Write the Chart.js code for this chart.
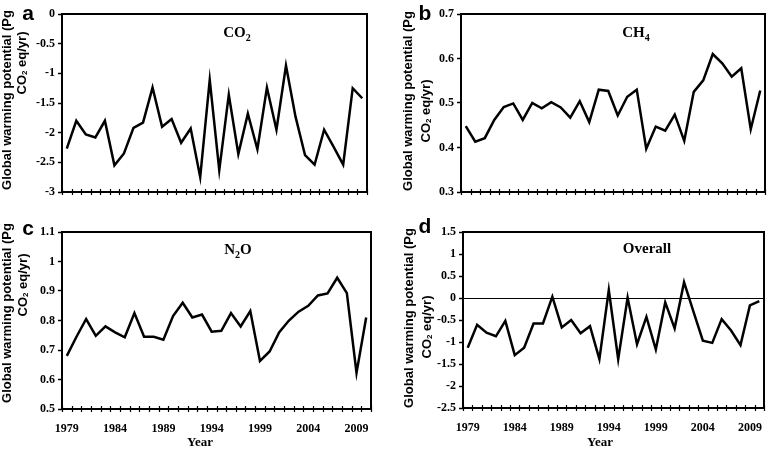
<!DOCTYPE html>
<html>
<head>
<meta charset="utf-8">
<script src="https://cdn.jsdelivr.net/npm/chart.js@4"></script>
<style>
  html, body { margin: 0; padding: 0; background: #fff; }
  #wrap { position: relative; width: 768px; height: 450px; }
  canvas { position: absolute; }
</style>
</head>
<body>
<div id="wrap">
  <canvas id="pa" width="384" height="215" style="left:0;top:0"></canvas>
  <canvas id="pb" width="384" height="215" style="left:384px;top:0"></canvas>
  <canvas id="pc" width="384" height="235" style="left:0;top:215px"></canvas>
  <canvas id="pd" width="384" height="235" style="left:384px;top:215px"></canvas>
</div>
<script>
// years on the x axis and the ones that get a label
const years = [1979, 1980, 1981, 1982, 1983, 1984, 1985, 1986, 1987, 1988, 1989, 1990, 1991, 1992, 1993, 1994,
               1995, 1996, 1997, 1998, 1999, 2000, 2001, 2002, 2003, 2004, 2005, 2006, 2007, 2008, 2009, 2010];
const labeledYears = [1979, 1984, 1989, 1994, 1999, 2004, 2009];

// global warming potential (Pg CO2 eq/yr)
const co2 = [-2.27, -1.80, -2.03, -2.08, -1.80, -2.55, -2.35, -1.92, -1.83, -1.24, -1.90, -1.77, -2.17, -1.93, -2.75, -1.11,
             -2.63, -1.36, -2.36, -1.68, -2.28, -1.24, -1.95, -0.87, -1.73, -2.38, -2.54, -1.95, -2.24, -2.54, -1.25, -1.42];
const ch4 = [0.448, 0.413, 0.421, 0.462, 0.491, 0.499, 0.462, 0.500, 0.488, 0.502, 0.490, 0.467, 0.504, 0.457, 0.530, 0.527,
             0.472, 0.514, 0.530, 0.397, 0.447, 0.438, 0.474, 0.415, 0.525, 0.551, 0.610, 0.589, 0.559, 0.578, 0.441, 0.528];
const n2o = [0.680, 0.745, 0.805, 0.748, 0.780, 0.760, 0.743, 0.825, 0.745, 0.745, 0.735, 0.815, 0.860, 0.810, 0.820, 0.762,
             0.765, 0.825, 0.780, 0.832, 0.663, 0.695, 0.760, 0.800, 0.830, 0.850, 0.885, 0.892, 0.945, 0.893, 0.622, 0.810];
const overall = [-1.13, -0.61, -0.79, -0.87, -0.52, -1.30, -1.13, -0.58, -0.58, 0.03, -0.67, -0.50, -0.80, -0.64, -1.39, 0.18,
                 -1.39, 0.01, -1.05, -0.43, -1.17, -0.10, -0.69, 0.36, -0.31, -0.97, -1.02, -0.48, -0.74, -1.07, -0.17, -0.07];

const SERIF = '"Liberation Serif", "Times New Roman", serif';
const SANS = '"Liberation Sans", Arial, sans-serif';

// draws text made of normal and subscript pieces, centred on x
function drawRich(ctx, parts, x, y, size) {
    const pieces = parts.map(p => {
        const font = 'bold ' + (p.sub ? Math.round(size * 0.65) : size) + 'px ' + p.family;
        ctx.font = font;
        return { t: p.t, font, w: ctx.measureText(p.t).width, dy: p.sub ? size * 0.25 : 0 };
    });
    const total = pieces.reduce((s, p) => s + p.w, 0);
    let cx = x - total / 2;
    ctx.textAlign = 'left';
    pieces.forEach(p => {
        ctx.font = p.font;
        ctx.fillText(p.t, cx, y + p.dy);
        cx += p.w;
    });
}

function makeDecor(cfg) {
    return {
        id: 'decor',
        afterDraw(chart) {
            const ctx = chart.ctx;
            const ca = chart.chartArea;
            const xs = chart.scales.x;
            ctx.save();
            ctx.strokeStyle = '#000';
            ctx.fillStyle = '#000';

            // plot frame
            ctx.lineWidth = 2;
            ctx.strokeRect(ca.left, ca.top, ca.right - ca.left, ca.bottom - ca.top);

            // small ticks crossing the x axis, between categories
            ctx.lineWidth = 1.2;
            ctx.beginPath();
            for (let i = 0; i <= years.length; i++) {
                const x = Math.round(xs.getPixelForValue(i - 0.5)) + 0.5;
                ctx.moveTo(x, ca.bottom - 3);
                ctx.lineTo(x, ca.bottom + 3);
            }
            ctx.stroke();

            // panel letter
            ctx.textBaseline = 'alphabetic';
            ctx.textAlign = 'center';
            ctx.font = 'bold 21px ' + SANS;
            ctx.fillText(cfg.letter, cfg.letterX, cfg.letterY);

            // gas name inside the plot
            drawRich(ctx, cfg.title, cfg.titleX, cfg.titleY, 15);

            // y axis title, two lines
            const lines = [
                [{ t: 'Global warming potential (Pg', family: SANS }],
                [{ t: 'CO', family: SANS }, { t: '2', sub: true, family: SANS }, { t: ' eq/yr)', family: SANS }]
            ];
            ctx.textBaseline = 'middle';
            lines.forEach((parts, i) => {
                ctx.save();
                ctx.translate(cfg.yLines[i][0], cfg.yLines[i][1]);
                ctx.rotate(-Math.PI / 2);
                drawRich(ctx, parts, 0, 0, 13);
                ctx.restore();
            });

            if (cfg.yearX) {
                ctx.textBaseline = 'alphabetic';
                ctx.textAlign = 'center';
                ctx.font = 'bold 13px ' + SERIF;
                ctx.fillText('Year', cfg.yearX, cfg.yearY);
            }
            ctx.restore();
        }
    };
}

function buildChart(id, values, cfg) {
    return new Chart(document.getElementById(id), {
        type: 'line',
        data: {
            labels: years,
            datasets: [{
                data: values,
                borderColor: '#000',
                borderWidth: 2.5,
                pointRadius: 0,
                tension: 0,
                fill: false
            }]
        },
        options: {
            responsive: false,
            animation: false,
            devicePixelRatio: 1,
            layout: { padding: { top: cfg.top, right: cfg.right, left: 0, bottom: 0 } },
            plugins: { legend: { display: false }, tooltip: { enabled: false } },
            scales: {
                x: {
                    type: 'category',
                    offset: true,
                    grid: { display: false },
                    border: { display: false },
                    ticks: {
                        display: cfg.showYears,
                        autoSkip: false,
                        maxRotation: 0,
                        padding: 5,
                        color: '#000',
                        font: { family: SERIF, size: 12, weight: 'bold' },
                        callback: (v, i) => labeledYears.includes(years[i]) ? String(years[i]) : ''
                    },
                    afterFit: s => { s.height = cfg.xh; }
                },
                y: {
                    min: cfg.min,
                    max: cfg.max,
                    border: { display: false },
                    grid: {
                        drawOnChartArea: !!cfg.zeroLine,
                        color: c => (cfg.zeroLine && c.tick && Math.abs(c.tick.value) < 1e-9) ? '#000' : 'rgba(0,0,0,0)',
                        lineWidth: 1,
                        tickColor: '#000',
                        tickWidth: 1.5,
                        tickLength: 4
                    },
                    ticks: {
                        stepSize: cfg.step,
                        padding: 3,
                        color: '#000',
                        font: { family: SERIF, size: 12, weight: 'bold' },
                        // excel style: 0, -0.5, -1, 1.1
                        callback: v => String(Number(v.toFixed(2)))
                    },
                    afterFit: s => { s.width = cfg.left; }
                }
            }
        },
        plugins: [makeDecor(cfg)]
    });
}

buildChart('pa', co2, {
    min: -3, max: 0, step: 0.5, left: 62, right: 17, top: 14, xh: 23, showYears: false,
    letter: 'a', letterX: 28, letterY: 20,
    title: [{ t: 'CO', family: SERIF }, { t: '2', sub: true, family: SERIF }], titleX: 237, titleY: 37,
    yLines: [[7, 100], [22, 63]]
});
buildChart('pb', ch4, {
    min: 0.3, max: 0.7, step: 0.1, left: 77, right: 3, top: 14, xh: 23, showYears: false,
    letter: 'b', letterX: 41, letterY: 20,
    title: [{ t: 'CH', family: SERIF }, { t: '4', sub: true, family: SERIF }], titleX: 252, titleY: 37,
    yLines: [[24, 101], [42, 111]]
});
buildChart('pc', n2o, {
    min: 0.5, max: 1.1, step: 0.1, left: 62, right: 13, top: 17, xh: 41, showYears: true,
    letter: 'c', letterX: 28, letterY: 20,
    title: [{ t: 'N', family: SERIF }, { t: '2', sub: true, family: SERIF }, { t: 'O', family: SERIF }], titleX: 238, titleY: 39,
    yLines: [[7, 98], [23, 70]],
    yearX: 200, yearY: 231
});
buildChart('pd', overall, {
    min: -2.5, max: 1.5, step: 0.5, left: 79, right: 4, top: 17, xh: 42, showYears: true, zeroLine: true,
    letter: 'd', letterX: 41, letterY: 18,
    title: [{ t: 'Overall', family: SERIF }], titleX: 263, titleY: 38,
    yLines: [[25, 103], [43, 112]],
    yearX: 216, yearY: 231
});
</script>
</body>
</html>
